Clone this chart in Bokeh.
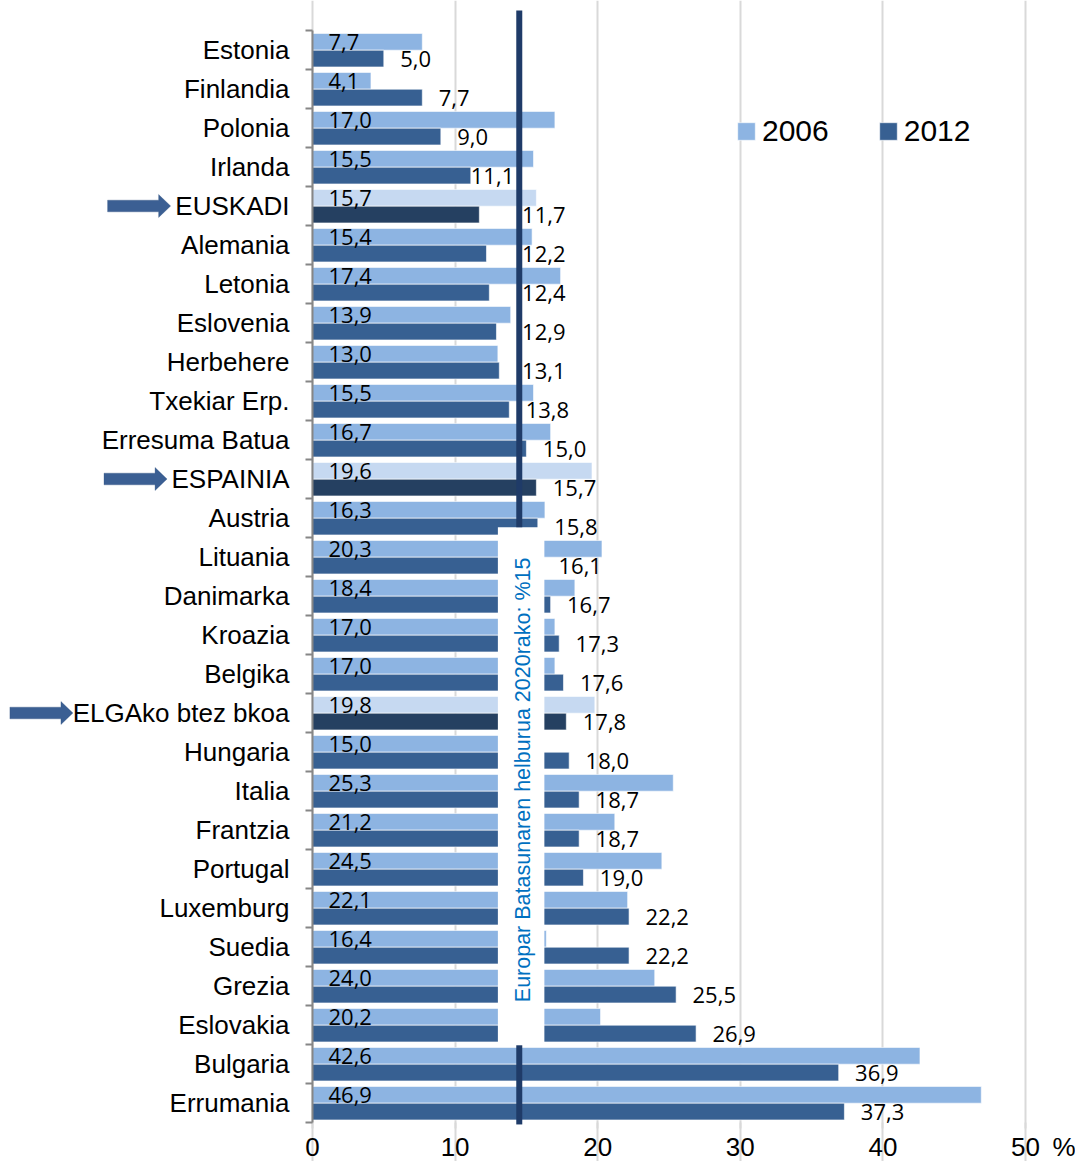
from bokeh.plotting import figure
from bokeh.models import (Range1d, FixedTicker, ColumnDataSource, Legend, LegendItem,
                          Label, Arrow, PolyAnnotation)
from bokeh.core.properties import value
from bokeh.embed import file_html
from bokeh.resources import INLINE

# ---------------- data ----------------
countries = ["Estonia", "Finlandia", "Polonia", "Irlanda", "EUSKADI", "Alemania", "Letonia",
             "Eslovenia", "Herbehere", "Txekiar Erp.", "Erresuma Batua", "ESPAINIA", "Austria",
             "Lituania", "Danimarka", "Kroazia", "Belgika", "ELGAko btez bkoa", "Hungaria",
             "Italia", "Frantzia", "Portugal", "Luxemburg", "Suedia", "Grezia", "Eslovakia",
             "Bulgaria", "Errumania"]
v2006 = [7.7, 4.1, 17.0, 15.5, 15.7, 15.4, 17.4, 13.9, 13.0, 15.5, 16.7, 19.6, 16.3, 20.3,
         18.4, 17.0, 17.0, 19.8, 15.0, 25.3, 21.2, 24.5, 22.1, 16.4, 24.0, 20.2, 42.6, 46.9]
v2012 = [5.0, 7.7, 9.0, 11.1, 11.7, 12.2, 12.4, 12.9, 13.1, 13.8, 15.0, 15.7, 15.8, 16.1,
         16.7, 17.3, 17.6, 17.8, 18.0, 18.7, 18.7, 19.0, 22.2, 22.2, 25.5, 26.9, 36.9, 37.3]
highlighted = ["EUSKADI", "ESPAINIA", "ELGAko btez bkoa"]
series_names = ["2006", "2012"]
target = 14.5
target_label = "Europar Batasunaren helburua 2020rako: %15"
x_ticks = [0, 10, 20, 30, 40, 50]
unit_label = "%"

# ---------------- layout / styles ----------------
W, H = 1075, 1161
X0, PXU = 312, 14.26      # pixel of x=0, pixels per unit
Y_TOP, ROW = 30, 39       # pixel of the top of the first row, row height
C06, C12 = "#8DB4E2", "#376092"
C06_HI, C12_HI = "#C6D9F1", "#254061"
LINE_C = "#1F3B68"
AXIS_C = "#868686"
GRID_C = "#D9D9D9"
ARROW_C = "#3B5F93"
CAT_FONT = "Liberation Sans"
NUM_FONT = "Open Sans"


def fmt(v):
    return f"{v:.1f}".replace(".", ",")


n = len(countries)
pos = list(range(1, n + 1))
OFF06, OFF12, BAR_H = -0.21, 0.22, 0.43

x_range = Range1d(-X0 / PXU, (W - X0) / PXU)
y_range = Range1d(0.5 + (H - Y_TOP) / ROW, 0.5 - Y_TOP / ROW)

p = figure(width=W, height=H, output_backend="svg", toolbar_location=None,
           x_range=x_range, y_range=y_range,
           min_border_left=0, min_border_right=0, min_border_top=0, min_border_bottom=0)
p.outline_line_color = None
p.background_fill_color = "white"
p.border_fill_color = "white"

# bars
renderers = {}
for hi in (False, True):
    idx = [i for i, c in enumerate(countries) if (c in highlighted) == hi]
    s06 = ColumnDataSource(dict(y=[pos[i] + OFF06 for i in idx], right=[v2006[i] for i in idx]))
    s12 = ColumnDataSource(dict(y=[pos[i] + OFF12 for i in idx], right=[v2012[i] for i in idx]))
    r06 = p.hbar(y="y", left=0, right="right", height=BAR_H, source=s06,
                 fill_color=C06_HI if hi else C06, line_color="white", line_alpha=0.6, line_width=1)
    r12 = p.hbar(y="y", left=0, right="right", height=BAR_H, source=s12,
                 fill_color=C12_HI if hi else C12, line_color="white", line_alpha=0.6, line_width=1)
    if not hi:
        renderers["2006"], renderers["2012"] = r06, r12

# white box behind the rotated target note
box_top, box_bottom = 13.24, 26.47
p.quad(left=target - 1.5, right=target + 1.76, top=box_top, bottom=box_bottom,
       fill_color="white", line_color=None)

# value labels
p.text(x=[0] * n, y=[y + OFF06 for y in pos], text=[fmt(v) for v in v2006], x_offset=16,
       text_align="left", text_baseline="middle", text_font=value(NUM_FONT),
       text_font_size="22px", text_color="black")


def label_x(v):
    x = v + 1.15
    if v < target - 3.2 and x + 3.0 > target - 0.2:
        x = v
    elif x < target + 0.2 and x + 3.0 > target - 0.2:
        x = target + 0.2
    return x


p.text(x=[label_x(v) for v in v2012], y=[y + OFF12 for y in pos], text=[fmt(v) for v in v2012],
       text_align="left", text_baseline="middle", text_font=value(NUM_FONT),
       text_font_size="22px", text_color="black")

# target line (interrupted by the note)
p.add_layout(Arrow(end=None, x_start=target, y_start=0.5 - 20 / ROW, x_end=target, y_end=box_top,
                   line_color=LINE_C, line_width=6))
p.add_layout(Arrow(end=None, x_start=target, y_start=box_bottom + 0.05, x_end=target,
                   y_end=n + 0.55, line_color=LINE_C, line_width=6))
p.add_layout(Label(x=target + 0.24, y=(box_top + box_bottom) / 2 - 0.14, text=target_label,
                   angle=90, angle_units="deg", text_align="center", text_baseline="middle",
                   text_color="#0070C0", text_font=CAT_FONT, text_font_size="21.5px"))

# arrows pointing at highlighted rows
arrow_tip = {"EUSKADI": -9.95, "ESPAINIA": -10.2, "ELGAko btez bkoa": -16.8}
L, HEAD, SH, HH = 4.42, 0.84, 0.15, 0.295
for name, tip in arrow_tip.items():
    yc = pos[countries.index(name)]
    xs = [tip - L, tip - HEAD, tip - HEAD, tip, tip - HEAD, tip - HEAD, tip - L]
    ys = [yc - SH, yc - SH, yc - HH, yc, yc + HH, yc + SH, yc + SH]
    p.add_layout(PolyAnnotation(xs=xs, ys=ys, fill_color=ARROW_C, fill_alpha=1,
                                line_color="#2E4F7E", line_width=1))

# grid
p.xgrid.ticker = FixedTicker(ticks=x_ticks)
p.xgrid.grid_line_color = GRID_C
p.xgrid.grid_line_width = 2
p.xgrid.bounds = (0.5, n + 0.5)
p.ygrid.visible = False

# axes (placed at the data origin)
xa = p.xaxis[0]
xa.fixed_location = n + 0.5
xa.bounds = (0, 50)
xa.ticker = FixedTicker(ticks=x_ticks, minor_ticks=[])
xa.axis_line_color = None
xa.major_tick_out = 6
xa.major_tick_in = 0
xa.major_tick_line_color = GRID_C
xa.major_tick_line_width = 2
xa.minor_tick_out = 0
xa.major_label_text_font = CAT_FONT
xa.major_label_text_font_size = "26px"
xa.major_label_text_color = "black"
xa.major_label_standoff = 9

ya = p.yaxis[0]
ya.fixed_location = 0
ya.bounds = (0.5, n + 0.5)
ya.ticker = FixedTicker(ticks=pos, minor_ticks=[i + 0.5 for i in range(0, n + 1)])
ya.axis_line_color = AXIS_C
ya.axis_line_width = 2
ya.major_tick_line_color = None
ya.major_tick_out = 0
ya.major_tick_in = 0
ya.minor_tick_out = 7
ya.minor_tick_in = 0
ya.minor_tick_line_color = AXIS_C
ya.minor_tick_line_width = 2
ya.major_label_text_font = CAT_FONT
ya.major_label_text_font_size = "26px"
ya.major_label_text_color = "black"
ya.major_label_standoff = 16
ya.major_label_overrides = {i: c for i, c in zip(pos, countries)}

p.add_layout(Label(x=51.9, y=0.5 + (1146 - Y_TOP) / ROW, text=unit_label, text_align="left",
                   text_baseline="middle", text_font=CAT_FONT, text_font_size="26px",
                   text_color="black"))

legend = Legend(items=[LegendItem(label=s, renderers=[renderers[s]]) for s in series_names],
                orientation="horizontal", location=(735, H - 148), glyph_width=22, glyph_height=22,
                label_text_font=CAT_FONT, label_text_font_size="30px", label_text_color="black",
                label_standoff=5, spacing=48, padding=0, margin=0, border_line_color=None,
                background_fill_alpha=0)
p.add_layout(legend)

open("out.html", "w").write(file_html(p, INLINE))
